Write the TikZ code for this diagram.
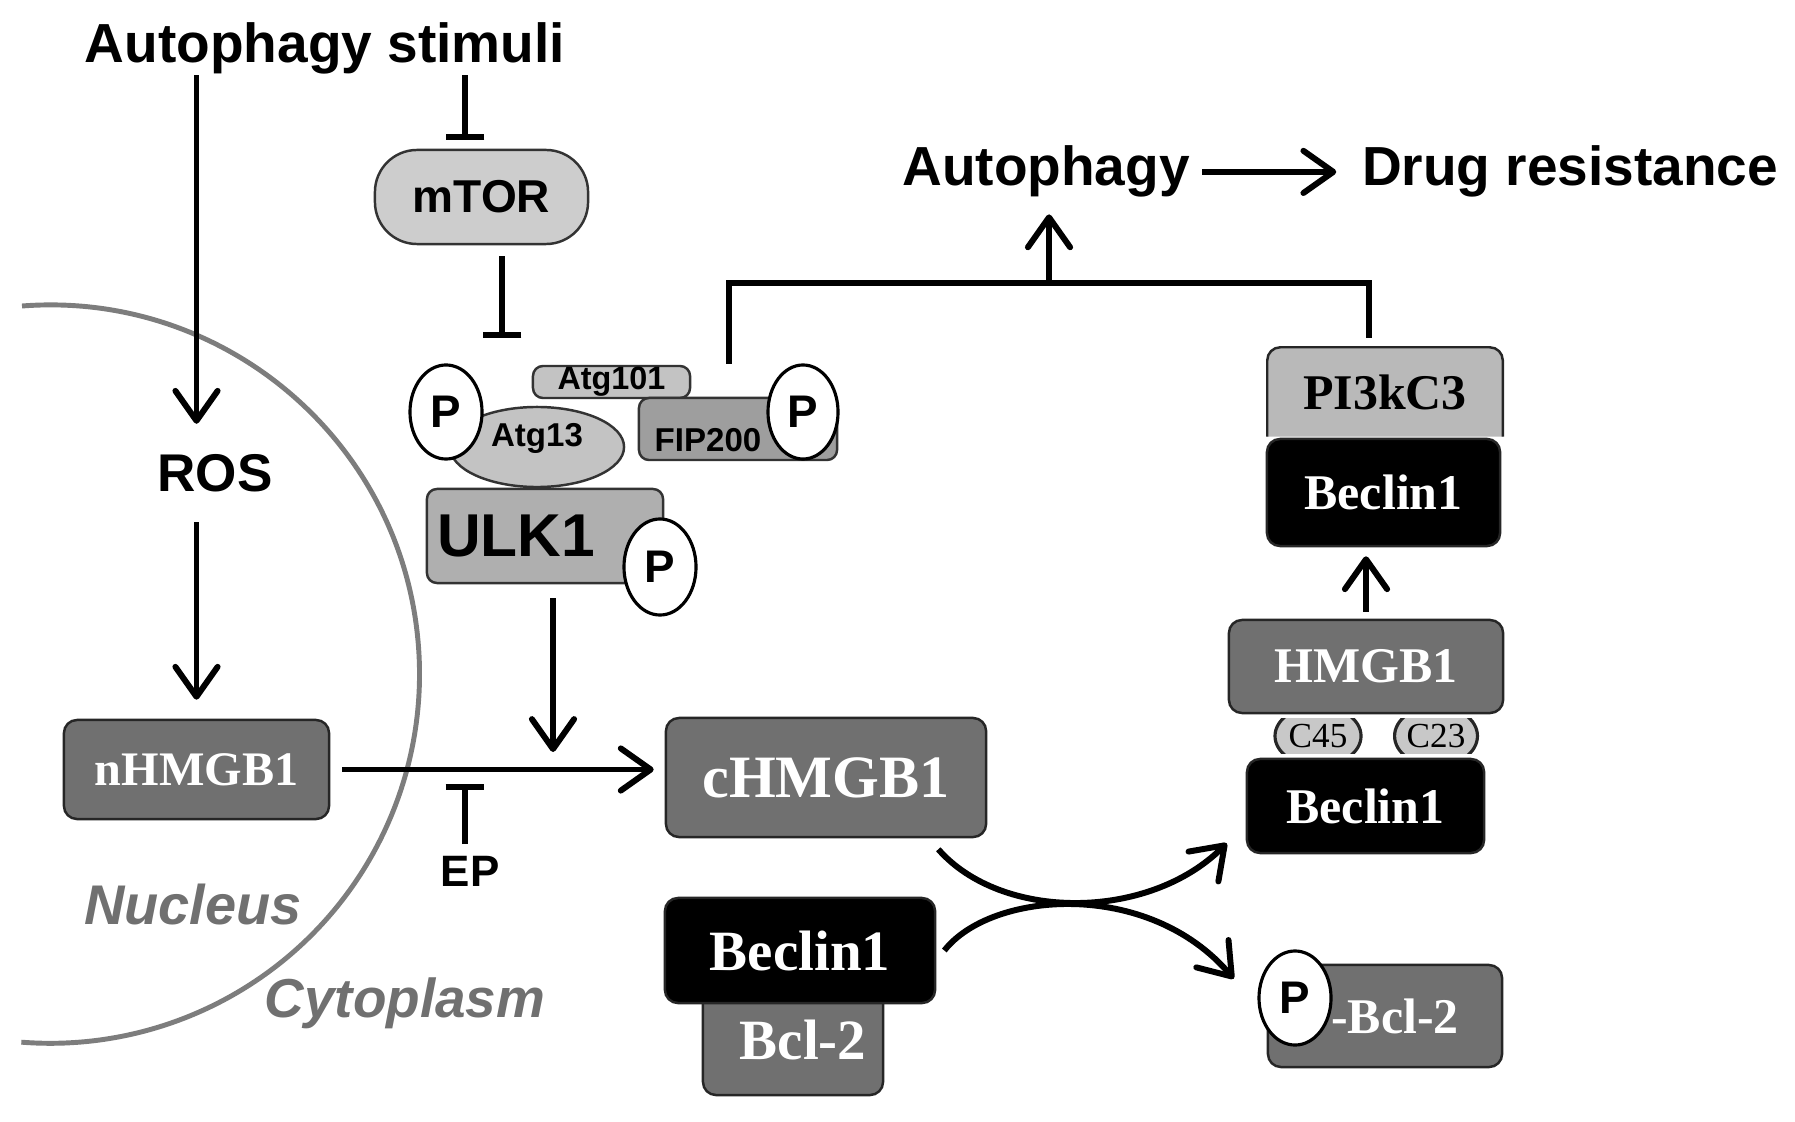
\documentclass[tikz,border=0pt]{standalone}
\usepackage{fontspec}
\setmainfont{Liberation Serif}
\setsansfont{Liberation Sans}
\usetikzlibrary{arrows.meta,shapes.geometric,backgrounds}

\definecolor{boxdark}{RGB}{112,112,112}
\definecolor{ulkgray}{RGB}{175,175,175}
\definecolor{fipgray}{RGB}{158,158,158}
\definecolor{palegray}{RGB}{205,205,205}
\definecolor{atggray}{RGB}{195,195,195}
\definecolor{pigray}{RGB}{185,185,185}
\definecolor{beadgray}{RGB}{200,200,200}
\definecolor{textgray}{RGB}{112,112,112}
\definecolor{rimgray}{RGB}{125,125,125}

\newcommand{\fsz}[1]{\fontsize{#1}{#1}\selectfont}

\tikzset{
  arr/.style={line width=1.7pt, -{Straight Barb[length=8.5pt,width=12pt,round]}},
  inh/.style={line width=1.7pt, -{Bar[width=11pt]}},
  lbl/.style={font=\sffamily\bfseries\fsz{#1}, inner sep=0pt},
  ital/.style={font=\sffamily\bfseries\itshape\fsz{#1}, text=textgray, inner sep=0pt},
  serifbox/.style={draw=black!85, line width=0.7pt, rounded corners=0.13cm,
    font=\rmfamily\bfseries\fsz{#1}, text=white, inner sep=0pt},
  darkbox/.style={serifbox=#1, fill=boxdark},
  blackbox/.style={serifbox=#1, fill=black},
  sansbox/.style={draw=black!80, line width=0.7pt, rounded corners=0.1cm,
    font=\sffamily\bfseries\fsz{#1}, inner sep=0pt},
  pdot/.style={ellipse, draw, line width=0.9pt, fill=white, minimum width=0.72cm,
    minimum height=0.94cm, inner sep=0pt, font=\sffamily\bfseries\fsz{13}},
  bead/.style={ellipse, draw=black!85, line width=0.9pt, fill=beadgray, minimum width=0.86cm,
    minimum height=0.6cm, inner sep=0pt, font=\rmfamily\fsz{10}},
}

\begin{document}
\begin{tikzpicture}[x=0.01cm,y=-0.01cm]
\useasboundingbox (0,0) rectangle (1795,1122);

% nucleus membrane
\draw[rimgray, line width=1.4pt] (22,306) arc[start angle=94.4, end angle=-94.5, radius=3.69cm];
\node[ital=15.9, anchor=base] (nuc) at (193,924) {Nucleus};
\node[ital=15.6, anchor=base] (cyto) at (405,1017) {Cytoplasm};

\node[lbl=15.65, anchor=base] (stimuli) at (325,63) {Autophagy stimuli};
\node[lbl=15.1, minimum height=0.97cm] (ros) at (215,473) {ROS};
\node[darkbox=13.7, minimum width=2.65cm, minimum height=0.99cm] (nhmgb) at (196.5,769.5) {nHMGB1};
\node[sansbox=13.1, fill=palegray, rounded corners=0.42cm, minimum width=2.13cm, minimum height=0.94cm] (mtor) at (481.5,197) {mTOR};

% ULK1 complex
\node[sansbox=9.2, fill=atggray, minimum width=1.57cm, minimum height=0.32cm] (atg101) at (611.5,382) {Atg101};
\node[sansbox=9.4, fill=fipgray, minimum width=1.98cm, minimum height=0.62cm,
  label={[lbl=9.4, xshift=-0.3cm, yshift=-0.11cm]center:FIP200}] (fip) at (738,429) {};
\node[ellipse, draw=black!80, line width=0.7pt, fill=atggray, minimum width=1.74cm, minimum height=0.8cm,
  inner sep=0pt, label={[lbl=9.4, yshift=0.09cm]center:Atg13}] (atg13) at (537,447) {};
\node[sansbox=17.2, fill=ulkgray, minimum width=2.36cm, minimum height=0.94cm,
  label={[lbl=17.2, xshift=-0.29cm]center:ULK1}] (ulk) at (545,536) {};
\node[pdot] (pa) at (446,412) {P};
\node[pdot, minimum width=0.7cm] (pb) at (803,412) {P};
\node[pdot, minimum height=0.96cm] (pc) at (660,567) {P};

\node[darkbox=17.1, minimum width=3.2cm, minimum height=1.19cm] (chmgb) at (826,777.5) {cHMGB1};
\node[darkbox=16.2, minimum width=1.8cm, minimum height=1.1cm] (bcl) at (793,1040) {\hspace{0.2cm}Bcl-2};
\node[blackbox=16.2, minimum width=2.7cm, minimum height=1.05cm] (beclow) at (800,950.5) {Beclin1};
\node[lbl=12.5] (ep) at (470,871) {EP};

% right column
\node[darkbox=14.2, minimum width=2.74cm, minimum height=0.93cm] (hmgb) at (1366,666.5) {HMGB1\hspace{0.24cm}};
\begin{scope}
\clip (1200,718) rectangle (1520,753);
\node[bead] (cff) at (1318,736) {C45};
\node[bead, minimum width=0.82cm] (ctt) at (1436,736) {C23};
\end{scope}
\node[blackbox=14.2, minimum width=2.37cm, minimum height=0.94cm] (beclmid) at (1365.5,806) {Beclin1};
\node[darkbox=14.2, minimum width=2.34cm, minimum height=1.02cm] (pbcl) at (1385,1016) {\hspace{0.2cm}-Bcl-2};
\node[pdot] (pd) at (1295,998) {P};
\node[blackbox=14.2, minimum width=2.33cm, minimum height=1.07cm] (becltop) at (1383.5,492.5) {Beclin1};
\node[font=\rmfamily\bfseries\fsz{14.2}, minimum width=2.34cm, minimum height=0.88cm, inner sep=0pt] (pik) at (1385,392) {PI3kC3};
\begin{scope}[on background layer]
\draw[fill=pigray, draw=black!85, line width=0.7pt, rounded corners=0.13cm]
  (pik.south west) -- (pik.north west) -- (pik.north east) -- (pik.south east);
\end{scope}

\node[lbl=15.65, anchor=base] (autoph) at (1046,186) {Autophagy};
\node[lbl=15.65, anchor=base] (drug) at (1570,186) {Drug resistance};

\coordinate (mtorbar) at (465,140);
\coordinate (ulkbar) at (502,338);
\coordinate (meet) at (553,752);
\coordinate (epbar) at (465,784);
\coordinate (fork) at (1049,283);

% connectors
\draw[arr] (stimuli.south -| nhmgb.north) -- (ros.north -| nhmgb.north);
\draw[arr, shorten >=0.19cm] (ros.south -| nhmgb.north) -- (nhmgb.north);
\draw[inh] (stimuli.south -| mtorbar) -- (mtorbar);
\draw[inh, shorten <=0.11cm] (mtor.south -| ulkbar) -- (ulkbar);
\draw[arr, shorten <=0.14cm] (ulk.south -| meet) -- (meet);
\draw[arr, shorten <=0.12cm, shorten >=0.11cm] (nhmgb.east) -- (nhmgb.east -| chmgb.west);
\draw[inh, shorten <=0.11cm] (ep.north -| epbar) -- (epbar);
\draw[line width=1.7pt] ([xshift=-0.09cm,yshift=0.33cm]fip.north) |- (fork) -| ([xshift=-0.16cm,yshift=0.09cm]pik.north);
\draw[arr, shorten >=0.16cm] (fork) -- (fork |- autoph.south);
\draw[arr, shorten <=0.12cm, shorten >=0.25cm] (autoph.east) -- (drug.west);
\draw[arr, shorten <=0.07cm, shorten >=0.09cm] (hmgb.north) -- (hmgb.north |- becltop.south);
\draw[arr] ([xshift=-0.49cm,yshift=-0.11cm]chmgb.south east) .. controls +(63,72) and +(-78,78) .. ([xshift=-0.19cm,yshift=0.11cm]beclmid.south west);
\draw[arr] ([xshift=0.08cm]beclow.east) .. controls +(47,-60) and +(-85,-100) .. ([xshift=-0.33cm,yshift=-0.15cm]pbcl.north west);

\end{tikzpicture}
\end{document}
